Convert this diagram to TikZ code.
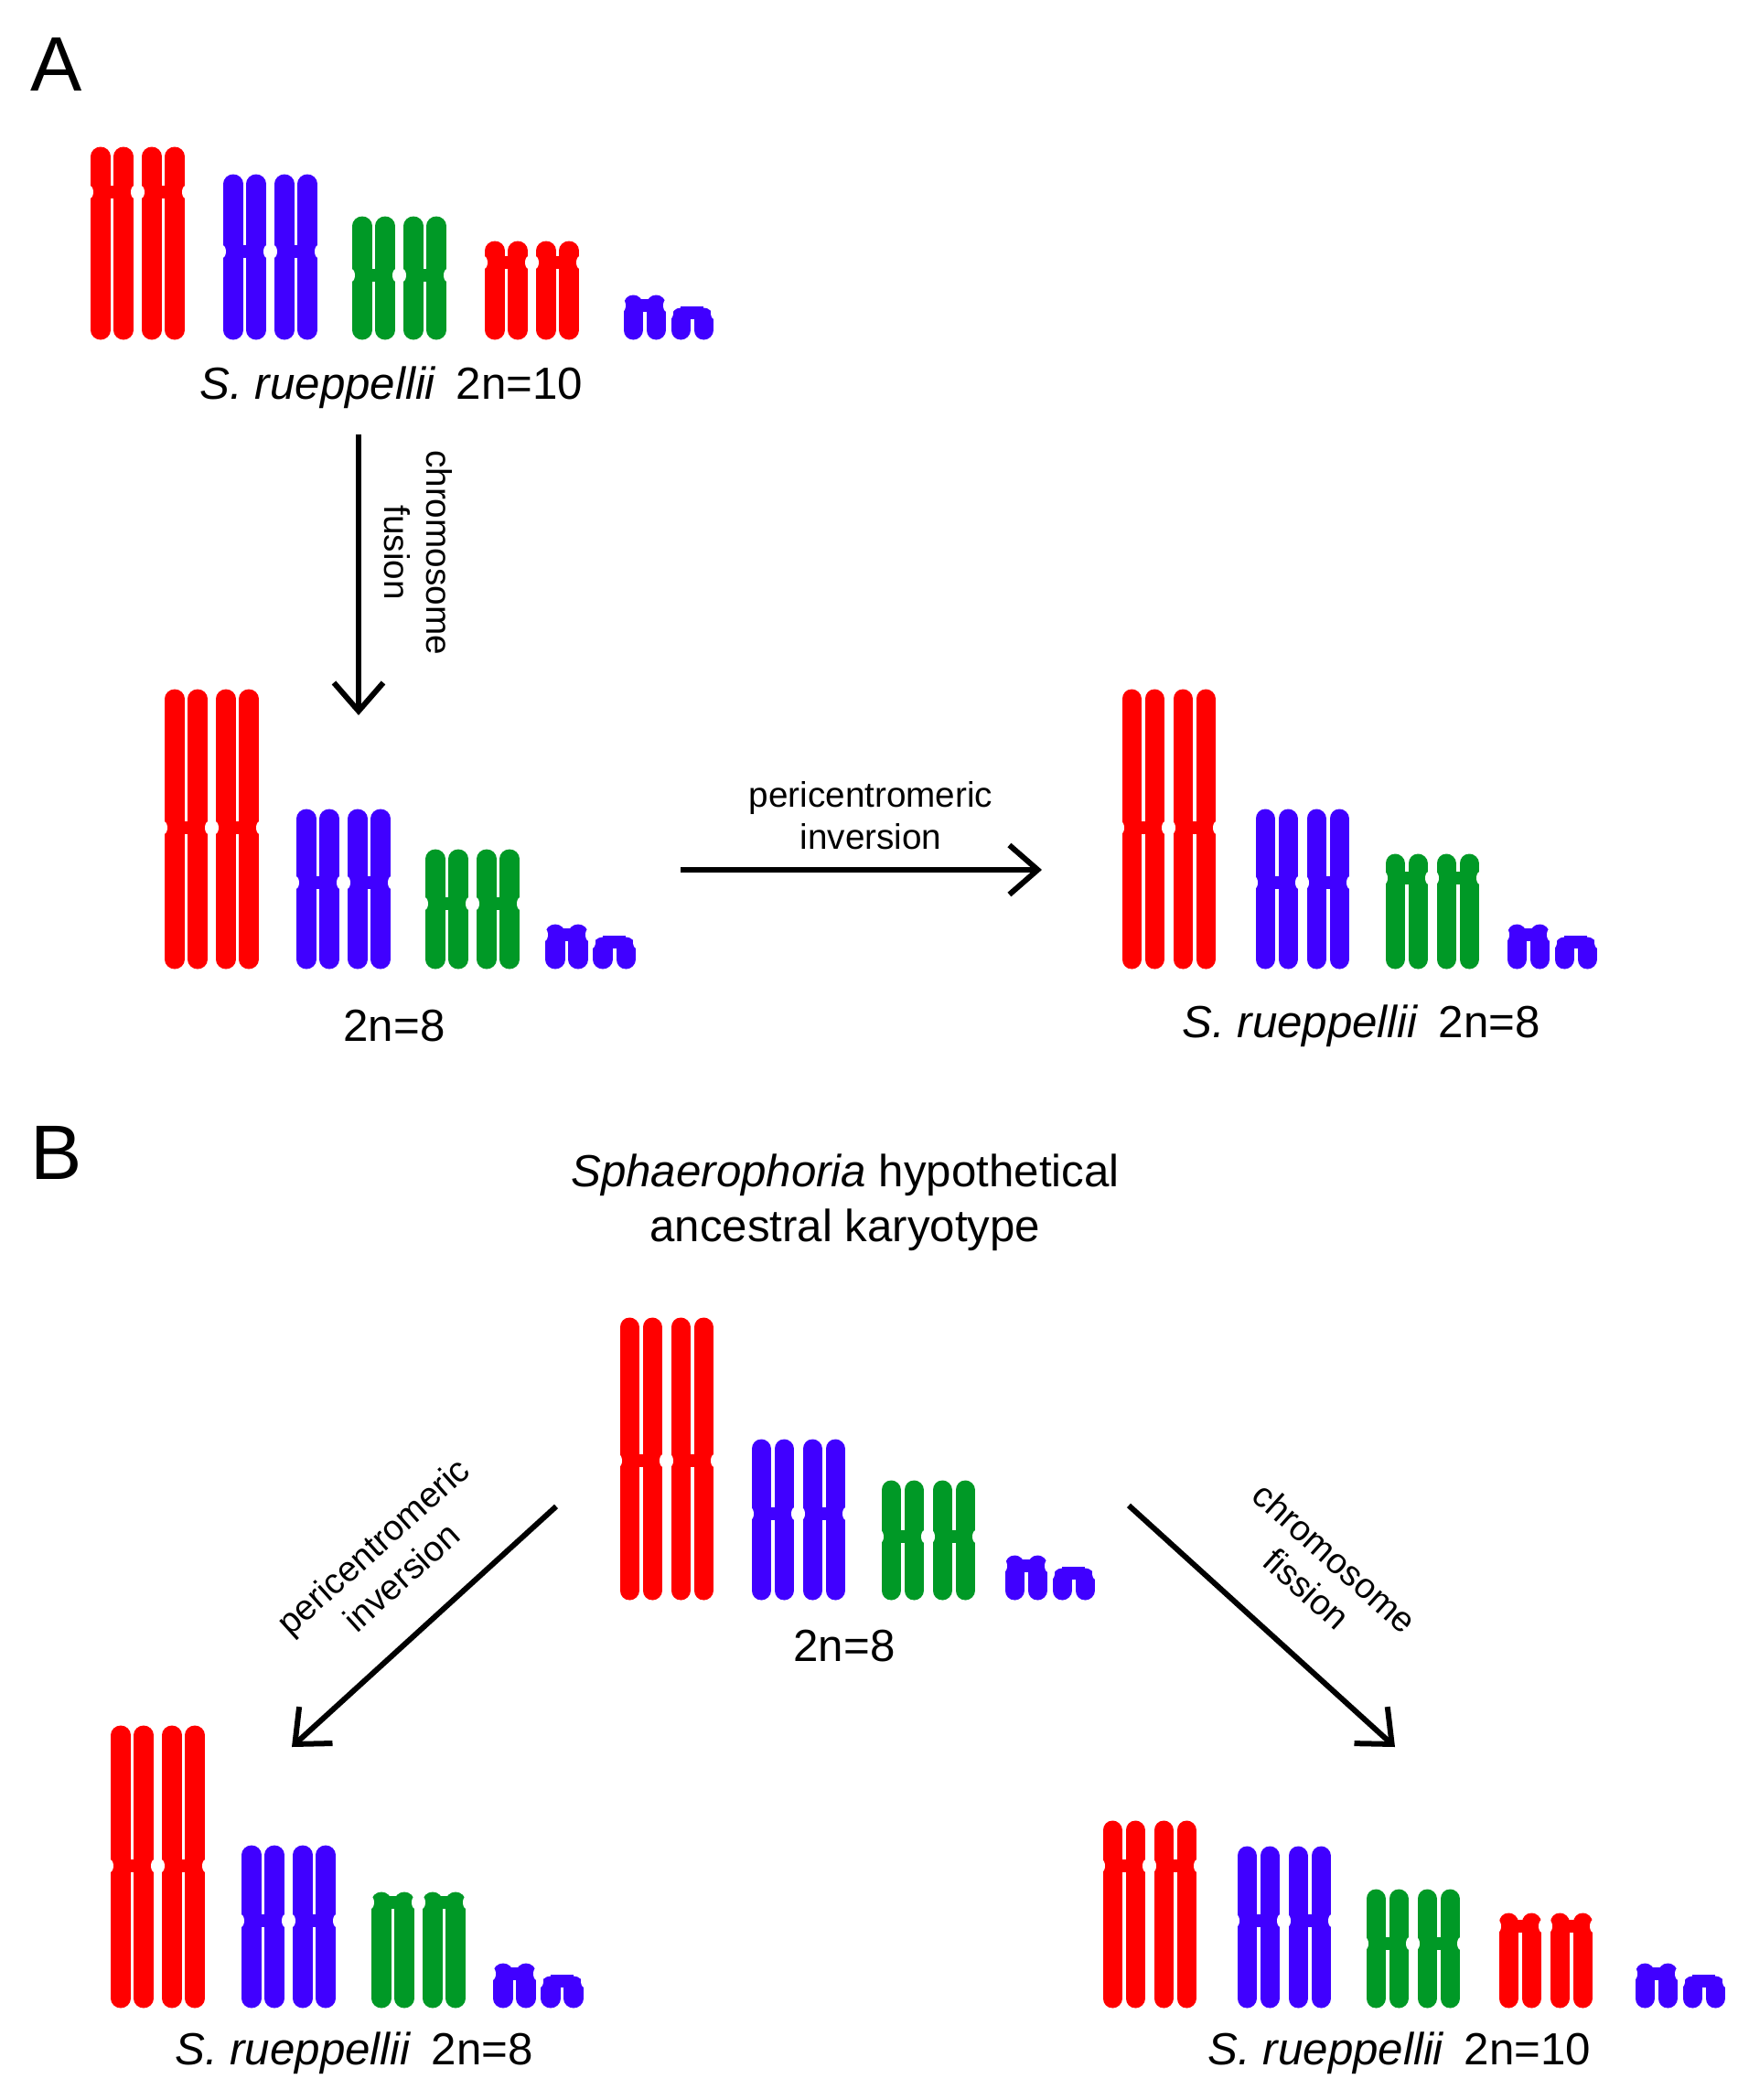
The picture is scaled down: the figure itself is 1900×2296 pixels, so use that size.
\documentclass[tikz,border=0pt]{standalone}
\usepackage{fontspec}
\setmainfont{Liberation Sans}
\usetikzlibrary{arrows.meta}

\definecolor{cred}{RGB}{255,0,0}
\definecolor{cblue}{RGB}{64,0,255}
\definecolor{cgreen}{RGB}{0,153,38}

% one chromosome: x, top, bottom, centromere, colour
\newcommand{\kchrom}[5]{%
  \draw[line width=2.1mm, line cap=round, #5] (#1+11,#2+11) -- (#1+11,#3-11)
                                             (#1+36,#2+11) -- (#1+36,#3-11);
  \fill[#5] (#1+11,#4-7) rectangle (#1+36,#4+7);
  \fill[white] (#1-1,#4) ellipse (0.04cm and 0.07cm);
  \fill[white] (#1+48,#4) ellipse (0.04cm and 0.07cm);
}
% homologous pair
\newcommand{\kpair}[5]{%
  \kchrom{#1}{#2}{#3}{#4}{#5}
  \kchrom{#1+56}{#2}{#3}{#4}{#5}
}
% dot chromosomes
\newcommand{\kdots}[2]{%
  \kchrom{#1}{#2-50}{#2}{#2-38}{cblue}
  \kchrom{#1+52}{#2-36}{#2}{#2-30}{cblue}
}

\tikzset{
  lbl/.style={font=\fontsize{14}{17}\selectfont, align=center},
  small/.style={font=\fontsize{11}{13}\selectfont, align=center},
  panel/.style={font=\fontsize{24}{28}\selectfont},
  rearr/.style={line width=0.6mm, -{Straight Barb[length=3.1mm,width=5.4mm,line width=0.6mm]}}
}

\begin{document}
\begin{tikzpicture}[x=0.01cm,y=-0.01cm]
    \useasboundingbox (0,0) rectangle (1900,2296);

    % Panel A
    \node[panel] (pA) at (62,70) {A};

    % S. rueppellii 2n=10
    \kpair{99}{160}{372}{210}{cred}
    \kpair{244}{190}{372}{275}{cblue}
    \kpair{385}{236}{372}{301}{cgreen}
    \kpair{530}{263}{372}{287}{cred}
    \kdots{681}{372}
    \node[lbl] (tA1) at (428,424) {\textit{S. rueppellii}\,\ 2n=10};

    % fused 2n=8
    \kpair{180}{753}{1060}{905}{cred}
    \kpair{324}{884}{1060}{965}{cblue}
    \kpair{465}{928}{1060}{988}{cgreen}
    \kdots{596}{1060}
    \node[lbl] (tA2) at (431,1122) {2n=8};

    % S. rueppellii 2n=8
    \kpair{1226}{753}{1060}{905}{cred}
    \kpair{1372}{884}{1060}{965}{cblue}
    \kpair{1514}{933}{1060}{960}{cgreen}
    \kdots{1647}{1060}
    \node[lbl] (tA3) at (1488,1122) {\textit{S. rueppellii}\,\ 2n=8};

    \coordinate (fusS) at (392,475);
    \coordinate (fusE) at (392,782);
    \draw[rearr] (fusS) -- (fusE);
    \node[small, rotate=-90] (fusL) at (457,604) {chromosome\\fusion};

    \coordinate (invS) at (744,951);
    \coordinate (invE) at (1139,951);
    \draw[rearr] (invS) -- (invE);
    \node[small] (invL) at (952,892) {pericentromeric\\inversion};

    % Panel B
    \node[panel] (pB) at (62,1260) {B};
    \node[lbl] (tB0) at (924,1315) {\textit{Sphaerophoria} hypothetical\\ancestral karyotype};

    % ancestral 2n=8
    \kpair{677}{1440}{1750}{1597}{cred}
    \kpair{821}{1573}{1750}{1655}{cblue}
    \kpair{963}{1618}{1750}{1680}{cgreen}
    \kdots{1098}{1750}
    \node[lbl] (tB1) at (923,1800) {2n=8};

    % S. rueppellii 2n=8
    \kpair{121}{1886}{2196}{2040}{cred}
    \kpair{264}{2017}{2196}{2100}{cblue}
    \kpair{406}{2068}{2196}{2080}{cgreen}
    \kdots{539}{2196}
    \node[lbl] (tB2) at (387,2245) {\textit{S. rueppellii}\,\ 2n=8};

    % S. rueppellii 2n=10
    \kpair{1205}{1990}{2196}{2040}{cred}
    \kpair{1352}{2018}{2196}{2100}{cblue}
    \kpair{1493}{2065}{2196}{2125}{cgreen}
    \kpair{1638}{2091}{2196}{2106}{cred}
    \kdots{1787}{2196}
    \node[lbl] (tB3) at (1530,2245) {\textit{S. rueppellii}\,\ 2n=10};

    \coordinate (lfS) at (608,1647);
    \coordinate (lfE) at (319,1910);
    \draw[rearr] (lfS) -- (lfE);
    \node[small, rotate=42] (lfL) at (423,1707) {pericentromeric\\inversion};

    \coordinate (rtS) at (1234,1646);
    \coordinate (rtE) at (1525,1910);
    \draw[rearr] (rtS) -- (rtE);
    \node[small, rotate=-42] (rtL) at (1444,1720) {chromosome\\fission};
\end{tikzpicture}
\end{document}
